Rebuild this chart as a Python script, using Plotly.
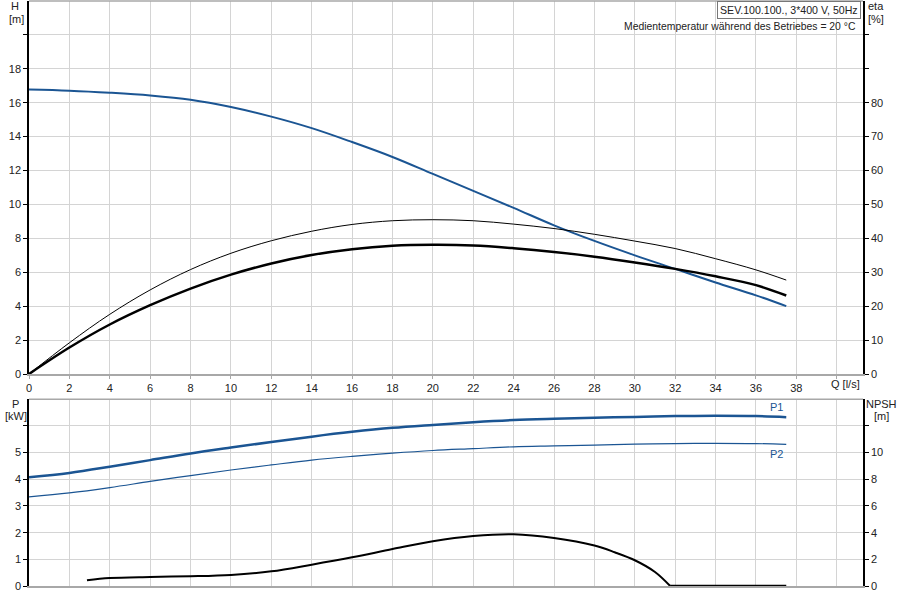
import plotly.graph_objects as go

# ---- data ----
q = [0, 2, 4, 6, 8, 10, 12, 14, 16, 18, 20, 22, 24, 26, 28, 30, 32, 34, 36, 37.5]
head = [16.78, 16.71, 16.59, 16.43, 16.18, 15.75, 15.18, 14.5, 13.68, 12.8,
        11.8, 10.8, 9.8, 8.77, 7.85, 7.0, 6.2, 5.4, 4.64, 4.0]
eta_thin = [0, 9.2, 17.6, 24.8, 30.8, 35.6, 39.3, 42.1, 44.1, 45.2,
            45.5, 45.2, 44.2, 42.9, 41.2, 39.2, 37.0, 34.0, 30.7, 27.7]
eta_thick = [0, 7.8, 14.6, 20.3, 25.2, 29.3, 32.6, 35.1, 36.8, 37.8,
             38.1, 37.9, 37.1, 36.0, 34.6, 32.9, 31.0, 28.8, 26.2, 23.15]
p1 = [4.08, 4.24, 4.47, 4.72, 4.97, 5.19, 5.40, 5.60, 5.78, 5.93,
      6.04, 6.14, 6.22, 6.27, 6.31, 6.34, 6.37, 6.38, 6.37, 6.33]
p2 = [3.34, 3.49, 3.69, 3.92, 4.14, 4.35, 4.54, 4.72, 4.86, 4.98,
      5.08, 5.15, 5.22, 5.25, 5.28, 5.32, 5.34, 5.35, 5.34, 5.31]
q_npsh = [2.87, 4, 6, 8, 10, 12, 14, 16, 18, 20, 22, 24, 26, 28, 29, 30, 31, 31.75]
npsh = [0.43, 0.6, 0.68, 0.73, 0.83, 1.1, 1.6, 2.15, 2.77, 3.36, 3.75, 3.88, 3.6,
        3.03, 2.53, 1.93, 1.05, 0.0]
q_npsh_flat = [31.75, 37.5]
npsh_flat = [0.0, 0.0]

x_grid = list(range(0, 42, 2))
h_ticks = list(range(0, 22, 2))
eta_ticks = list(range(0, 110, 10))
p_ticks = list(range(0, 7))
npsh_ticks = list(range(0, 14, 2))

title_text = "SEV.100.100., 3*400 V, 50Hz"
subtitle_text = "Medientemperatur während des Betriebes = 20 °C"

BLUE = "#1b5593"
FONT = "Liberation Sans, Arial, sans-serif"
GRID = "#d4d4d4"

fig = go.Figure()
fig.add_trace(go.Scatter(x=q, y=head, mode="lines", line=dict(color=BLUE, width=2, shape="spline"),
                         xaxis="x", yaxis="y"))
fig.add_trace(go.Scatter(x=q, y=eta_thin, mode="lines", line=dict(color="black", width=1, shape="spline"),
                         xaxis="x", yaxis="y2"))
fig.add_trace(go.Scatter(x=q, y=eta_thick, mode="lines", line=dict(color="black", width=2.5, shape="spline"),
                         xaxis="x", yaxis="y2"))
fig.add_trace(go.Scatter(x=q, y=p1, mode="lines", line=dict(color=BLUE, width=2.5, shape="spline"),
                         xaxis="x2", yaxis="y3"))
fig.add_trace(go.Scatter(x=q, y=p2, mode="lines", line=dict(color=BLUE, width=1.2, shape="spline"),
                         xaxis="x2", yaxis="y3"))
fig.add_trace(go.Scatter(x=q_npsh, y=npsh, mode="lines", line=dict(color="black", width=2, shape="spline"),
                         xaxis="x2", yaxis="y4"))
fig.add_trace(go.Scatter(x=q_npsh_flat, y=npsh_flat, mode="lines", line=dict(color="black", width=2.5),
                         xaxis="x2", yaxis="y4"))

ML, MR, MT, MB = 29, 37, 1, 14
W, H = 900, 600
top_dom = [(H - MB - 374) / (H - MT - MB), 1.0]
bot_dom = [0.0, (H - MB - 399.3) / (H - MT - MB)]
xr = [0, 41.3]

common_x = dict(range=xr, tickmode="array", tickvals=x_grid, showgrid=True,
                gridcolor=GRID, gridwidth=1, zeroline=False, fixedrange=True, automargin=False)

fig.update_layout(
    width=W, height=H,
    margin=dict(l=ML, r=MR, t=MT, b=MB, autoexpand=False),
    paper_bgcolor="white", plot_bgcolor="white",
    showlegend=False,
    font=dict(family=FONT, size=11, color="#222"),
    xaxis=dict(**common_x, domain=[0, 1], anchor="y",
               ticktext=[str(v) if v <= 38 else "" for v in x_grid],
               showline=True, linecolor="#a8a8a8", linewidth=2,
               ticks="outside", ticklen=3, tickcolor="#a8a8a8"),
    yaxis=dict(domain=top_dom, range=[0, 22], tickmode="array",
               tickvals=h_ticks, ticktext=[str(v) if v <= 18 else "" for v in h_ticks],
               showgrid=True, gridcolor=GRID, zeroline=False, automargin=False,
               showline=True, linecolor="black", linewidth=1.5,
               ticks="outside", ticklen=4, tickcolor="black", anchor="x"),
    yaxis2=dict(range=[0, 110], overlaying="y", side="right", anchor="x",
                tickmode="array", tickvals=eta_ticks,
                ticktext=[str(v) if v <= 80 else "" for v in eta_ticks],
                showgrid=False, zeroline=False, automargin=False,
                showline=True, linecolor="black", linewidth=1.5,
                ticks="outside", ticklen=4, tickcolor="black"),
    xaxis2=dict(**common_x, domain=[0, 1], anchor="y3", showticklabels=False,
                showline=True, linecolor="#a8a8a8", linewidth=2, ticks=""),
    yaxis3=dict(domain=bot_dom, range=[0, 7], tickmode="array",
                tickvals=p_ticks, ticktext=[str(v) if v <= 5 else "" for v in p_ticks],
                showgrid=True, gridcolor=GRID, zeroline=False, automargin=False,
                showline=True, linecolor="black", linewidth=1.5,
                ticks="outside", ticklen=4, tickcolor="black", anchor="x2"),
    yaxis4=dict(range=[0, 14], overlaying="y3", side="right", anchor="x2",
                tickmode="array", tickvals=npsh_ticks,
                ticktext=[str(v) if v <= 10 else "" for v in npsh_ticks],
                showgrid=False, zeroline=False, automargin=False,
                showline=True, linecolor="black", linewidth=1.5,
                ticks="outside", ticklen=4, tickcolor="black"),
)

# top frame lines
fig.add_shape(type="line", xref="paper", yref="paper", x0=0, x1=1, y0=1, y1=1,
              line=dict(color="#a8a8a8", width=1.5))
fig.add_shape(type="line", xref="paper", yref="paper", x0=0, x1=1, y0=bot_dom[1], y1=bot_dom[1],
              line=dict(color="#a8a8a8", width=1.5))


def px2x(px):
    return (px - ML) / (W - ML - MR)


def py2y(py):
    return (H - MB - py) / (H - MT - MB)


def A(text, x, y, xanchor="center", yanchor="middle", size=11, **kw):
    fig.add_annotation(text=text, x=x, y=y, xref="paper", yref="paper", xanchor=xanchor,
                       yanchor=yanchor, showarrow=False,
                       font=dict(family=FONT, size=size, color="#222"), **kw)


A("H", px2x(15), py2y(6))
A("[m]", px2x(16), py2y(19))
A("eta", px2x(876), py2y(6))
A("[%]", px2x(876), py2y(19))
A("P", px2x(15), py2y(404))
A("[kW]", px2x(16), py2y(416))
A("NPSH", px2x(881), py2y(404))
A("[m]", px2x(881), py2y(416))
A("Q [l/s]", px2x(845), py2y(384))
A(subtitle_text, px2x(858), py2y(27), xanchor="right", size=10.4)
A(title_text, px2x(861), py2y(0.5), xanchor="right", yanchor="top", size=10.6,
  bordercolor="#777", borderwidth=1, borderpad=2, bgcolor="white")

# curve labels
fig.add_annotation(text="P1", x=37.0, y=p1[-1], xref="x2", yref="y3", xanchor="center", yanchor="bottom",
                   yshift=2, showarrow=False, font=dict(family=FONT, size=11, color=BLUE))
fig.add_annotation(text="P2", x=37.0, y=p2[-1], xref="x2", yref="y3", xanchor="center", yanchor="top",
                   yshift=-2, showarrow=False, font=dict(family=FONT, size=11, color=BLUE))

fig.write_html("out.html", config={"displayModeBar": False},
               post_script="document.body.style.margin='0';document.body.style.overflow='hidden';")
